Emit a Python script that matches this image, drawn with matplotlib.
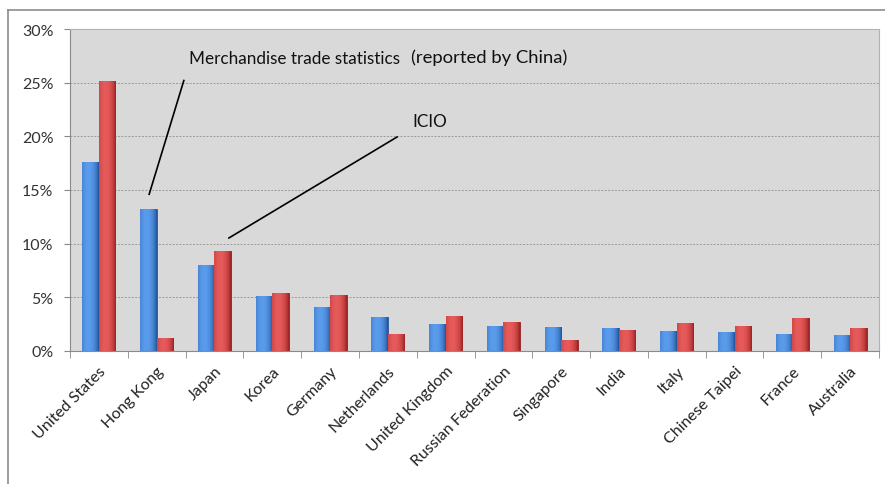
import numpy as np
import matplotlib
matplotlib.use('Agg')
import matplotlib.pyplot as plt
import matplotlib.transforms as mtransforms
from matplotlib.colors import to_rgb

plt.rcParams['font.family'] = ['Lato', 'DejaVu Sans']

# Share of China's exports by partner
countries = ['United States', 'Hong Kong', 'Japan', 'Korea', 'Germany', 'Netherlands',
             'United Kingdom', 'Russian Federation', 'Singapore', 'India', 'Italy',
             'Chinese Taipei', 'France', 'Australia']
merch = [17.6, 13.2, 8.0, 5.1, 4.1, 3.2, 2.5, 2.3, 2.2, 2.15, 1.85, 1.77, 1.6, 1.5]
icio = [25.2, 1.2, 9.3, 5.4, 5.2, 1.55, 3.3, 2.7, 1.0, 2.0, 2.6, 2.3, 3.1, 2.1]

merch = np.array(merch) / 100
icio = np.array(icio) / 100


def cylinder(bars, dark, light):
    # fake the rounded look with a horizontal gradient clipped to each bar
    t = np.linspace(0, 1, 64)
    prof = np.clip(1 - ((t - 0.38) / 0.62) ** 2, 0, 1) ** 0.8
    d, l = np.array(to_rgb(dark)), np.array(to_rgb(light))
    row = d[None, :] + (l - d)[None, :] * prof[:, None]
    img = row[None, :, :]
    for b in bars:
        x0, y0 = b.get_xy()
        im = ax.imshow(img, extent=[x0, x0 + b.get_width(), y0, y0 + b.get_height()],
                       aspect='auto', interpolation='bilinear', zorder=2)
        im.set_clip_path(b)


fig = plt.figure(figsize=(8.85, 4.85), dpi=100)
ax = fig.add_axes([70 / 885, 133 / 485, 809 / 885, 322 / 485])
ax.set_facecolor('#d9d9d9')

x = np.arange(len(countries))
w = 0.285
b1 = ax.bar(x - w / 2, merch, w, color='#3a7bd0', edgecolor='#24559a', linewidth=0.6, zorder=2)
b2 = ax.bar(x + w / 2, icio, w, color='#d03434', edgecolor='#8e1e1e', linewidth=0.6, zorder=2)
cylinder(b1, '#1f4f9a', '#5a9cec')
cylinder(b2, '#9a1f1f', '#e65a5a')

ax.set_xlim(-0.5, len(countries) - 0.5)
ax.set_ylim(0, 0.30)
ax.set_yticks(np.arange(0, 0.31, 0.05))
ax.set_yticklabels([f'{int(round(v * 100))}%' for v in np.arange(0, 0.31, 0.05)],
                   fontsize=11.5, color='#333333')
ax.yaxis.grid(True, color='#9a9a9a', linestyle=(0, (2, 1.5)), linewidth=0.7, zorder=1)
ax.set_axisbelow(True)

ax.set_xticks(x)
ax.set_xticklabels(countries, rotation=45, ha='right', va='top', rotation_mode='anchor',
                   fontsize=11.5, color='#222222')
shift = mtransforms.ScaledTranslation(-6 / 100, 0, fig.dpi_scale_trans)
for lbl in ax.get_xticklabels():
    lbl.set_transform(lbl.get_transform() + shift)
ax.set_xticks(np.arange(-0.5, len(countries)), minor=True)
ax.tick_params(axis='x', which='major', length=0, pad=9)
ax.tick_params(axis='x', which='minor', length=5, color='#888888', direction='out')
ax.tick_params(axis='y', length=4, color='#888888', pad=8)

for s in ['left', 'bottom']:
    ax.spines[s].set_color('#8a8a8a')
for s in ['top', 'right']:
    ax.spines[s].set_color('#aab2c4')

# callouts
ax.plot([1.47, 0.87], [0.252, 0.146], color='black', linewidth=1.2, zorder=3)
ax.plot([5.16, 2.25], [0.1994, 0.1053], color='black', linewidth=1.2, zorder=3)
ax.text(1.56, 0.273, 'Merchandise trade statistics', fontsize=12.3, va='center', color='#111111')
ax.text(5.40, 0.274, '(reported by China)', fontsize=13.3, va='center', color='#111111')
ax.text(5.42, 0.214, 'ICIO', fontsize=12.3, va='center', color='#111111')

# outer chart frame
fig.add_artist(plt.Line2D([8 / 885, 1], [1 - 11 / 485, 1 - 11 / 485], color='#8c8c8c', linewidth=1.2))
fig.add_artist(plt.Line2D([8 / 885, 8 / 885], [0, 1 - 11 / 485], color='#8c8c8c', linewidth=1.2))

fig.savefig('out.png', dpi=100)
